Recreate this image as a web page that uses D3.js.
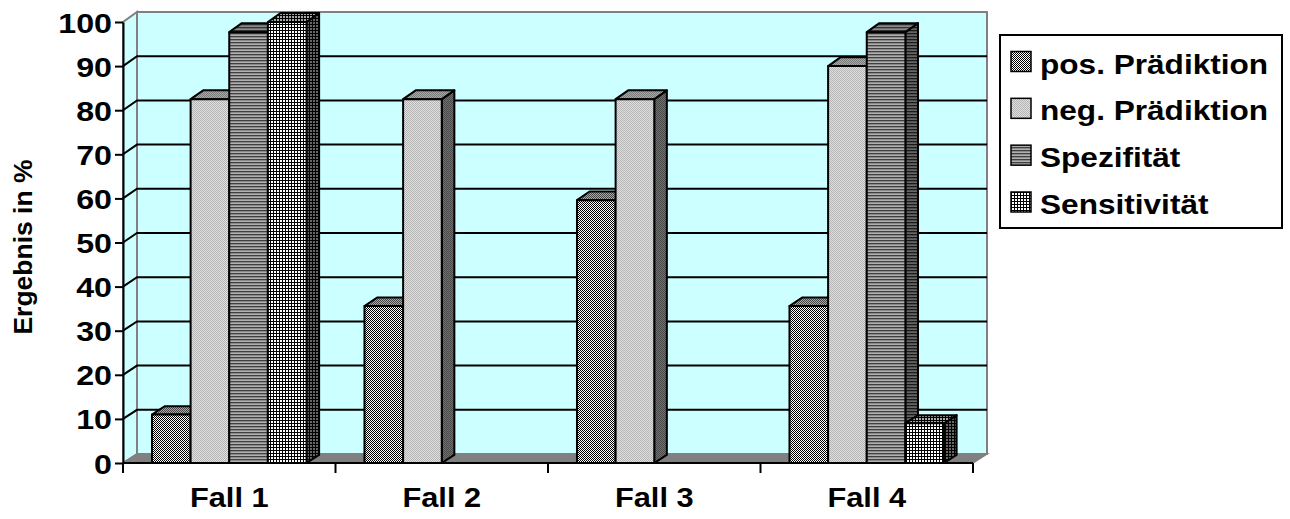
<!DOCTYPE html>
<html><head><meta charset="utf-8">
<script src="https://cdn.jsdelivr.net/npm/d3@7"></script>
<style>body{margin:0;background:#fff;overflow:hidden}</style>
</head><body><svg id="c" width="1290" height="519"></svg>
<script>
const categories = ["Fall 1", "Fall 2", "Fall 3", "Fall 4"];
const seriesNames = ["pos. Prädiktion", "neg. Prädiktion", "Spezifität", "Sensitivität"];
const posPraediktion = [11, 35.6, 59.6, 35.6];
const negPraediktion = [82.5, 82.5, 82.5, 90];
const spezifitaet = [97.7, null, null, 97.7];
const sensitivitaet = [100, null, null, 9];
const yTicks = [0, 10, 20, 30, 40, 50, 60, 70, 80, 90, 100];
const yTitle = "Ergebnis in %";

const seriesValues = [posPraediktion, negPraediktion, spezifitaet, sensitivitaet];
const svg = d3.select("#c");
const FONT = "Liberation Sans, Arial, sans-serif";
const X0 = 123, X1 = 973, DX = 14, BAR_D = 0.9;

const x = d3.scaleBand().domain(categories).range([X0, X1]);
const xs = d3.scaleBand().domain(seriesNames).range([0, x.bandwidth()]).paddingInner(0).paddingOuter(0.75);
const yF = d3.scaleLinear().domain([0, 100]).range([463, 22]);
const yB = d3.scaleLinear().domain([0, 100]).range([454, 12]);
function P(px, v, d) { return [px + DX * d, yF(v) * (1 - d) + yB(v) * d]; }
const poly = pts => pts.map(p => p.join(",")).join(" ");

// patterns
const defs = svg.append("defs");
function checker(id, a, b) {
  const p = defs.append("pattern").attr("id", id).attr("patternUnits", "userSpaceOnUse").attr("width", 2).attr("height", 2);
  p.append("rect").attr("width", 2).attr("height", 2).attr("fill", b);
  p.append("rect").attr("width", 1).attr("height", 1).attr("fill", a);
  p.append("rect").attr("x", 1).attr("y", 1).attr("width", 1).attr("height", 1).attr("fill", a);
}
function stripes(id, c0, c1, c2) {
  const p = defs.append("pattern").attr("id", id).attr("patternUnits", "userSpaceOnUse").attr("width", 3).attr("height", 3);
  [c0, c1, c2].forEach((c, i) => p.append("rect").attr("y", i).attr("width", 3).attr("height", 1).attr("fill", c));
}
function grid(id, bg, line) {
  const p = defs.append("pattern").attr("id", id).attr("patternUnits", "userSpaceOnUse").attr("width", 3).attr("height", 3);
  p.append("rect").attr("width", 3).attr("height", 3).attr("fill", bg);
  p.append("rect").attr("width", 3).attr("height", 1).attr("fill", line);
  p.append("rect").attr("width", 1).attr("height", 3).attr("fill", line);
}
checker("s0f", "#000", "#fff"); checker("s0t", "#444", "#aaa"); checker("s0s", "#000", "#777");
checker("s1f", "#b4b4b4", "#e0e0e0"); checker("s1t", "#7a7a7a", "#a8a8a8"); checker("s1s", "#4a4a4a", "#707070");
stripes("s2f", "#404040", "#8a8a8a", "#b0b0b0"); stripes("s2t", "#333", "#707070", "#8a8a8a"); stripes("s2s", "#1a1a1a", "#505050", "#666");
grid("s3f", "#fff", "#000"); grid("s3t", "#aaa", "#000"); grid("s3s", "#666", "#000");

// walls
svg.append("polygon").attr("points", poly([P(X0, 0, 0), P(X0, 100, 0), P(X0, 100, 1), P(X0, 0, 1)]))
  .attr("fill", "#ccffff").attr("stroke", "#808080").attr("stroke-width", 2);
svg.append("polygon").attr("points", poly([P(X0, 0, 1), P(X0, 100, 1), P(X1, 100, 1), P(X1, 0, 1)]))
  .attr("fill", "#ccffff").attr("stroke", "#808080").attr("stroke-width", 2);
svg.append("polygon").attr("points", poly([P(X0, 0, 0), P(X1, 0, 0), P(X1, 0, 1), P(X0, 0, 1)]))
  .attr("fill", "#808080").attr("stroke", "#808080").attr("stroke-width", 1.5);

// gridlines
svg.append("g").selectAll("polyline").data(yTicks.filter(v => v > 0 && v < 100)).join("polyline")
  .attr("points", v => poly([P(X0, v, 0), P(X0, v, 1), P(X1, v, 1)]))
  .attr("fill", "none").attr("stroke", "#000").attr("stroke-width", 2);

// bars
const bars = [];
categories.forEach((c, ci) => seriesNames.forEach((s, si) => {
  const v = seriesValues[si][ci];
  if (v != null) bars.push({ c, s, si, v });
}));
const bg = svg.append("g");
bars.forEach(b => {
  const xl = x(b.c) + xs(b.s), xr = xl + xs.bandwidth();
  const g = bg.append("g").attr("stroke", "#000").attr("stroke-width", 2).attr("stroke-linejoin", "round");
  g.append("polygon").attr("points", poly([P(xr, 0, 0), P(xr, b.v, 0), P(xr, b.v, BAR_D), P(xr, 0, BAR_D)])).attr("fill", `url(#s${b.si}s)`);
  g.append("polygon").attr("points", poly([P(xl, b.v, 0), P(xl, b.v, BAR_D), P(xr, b.v, BAR_D), P(xr, b.v, 0)])).attr("fill", `url(#s${b.si}t)`);
  g.append("polygon").attr("points", poly([P(xl, 0, 0), P(xl, b.v, 0), P(xr, b.v, 0), P(xr, 0, 0)])).attr("fill", `url(#s${b.si}f)`);
});

// y axis
const ya = svg.append("g").attr("transform", `translate(${X0},0)`)
  .call(d3.axisLeft(yF).tickValues(yTicks).tickSize(8).tickSizeOuter(0));
ya.select(".domain").attr("stroke", "#000").attr("stroke-width", 2);
ya.selectAll(".tick line").attr("stroke", "#000").attr("stroke-width", 2);
ya.selectAll(".tick text").attr("x", null).attr("dy", null)
  .attr("transform", "translate(-11,10) scale(1.15,1)")
  .attr("font-family", FONT).attr("font-weight", "bold").attr("font-size", 28).attr("fill", "#000");

// x axis
const xa = svg.append("g").attr("transform", `translate(0,${yF(0)})`);
xa.append("line").attr("x1", X0).attr("x2", X1).attr("stroke", "#000").attr("stroke-width", 2);
xa.selectAll("line.t").data(categories.map(c => x(c)).concat([X1])).join("line").attr("class", "t")
  .attr("x1", d => d).attr("x2", d => d).attr("y1", 0).attr("y2", 10).attr("stroke", "#000").attr("stroke-width", 2);
xa.selectAll("text").data(categories).join("text")
  .attr("transform", d => `translate(${x(d) + x.bandwidth() / 2},44) scale(1.1,1)`)
  .attr("text-anchor", "middle").attr("font-family", FONT).attr("font-weight", "bold").attr("font-size", 28).text(d => d);

// y title
svg.append("text").attr("transform", "translate(32,247) rotate(-90) scale(1.06,1)")
  .attr("text-anchor", "middle").attr("font-family", FONT).attr("font-weight", "bold").attr("font-size", 25).text(yTitle);

// legend
const lg = svg.append("g");
lg.append("rect").attr("x", 1000).attr("y", 35).attr("width", 282).attr("height", 193)
  .attr("fill", "#fff").attr("stroke", "#000").attr("stroke-width", 2);
const rowY = d3.scalePoint().domain(seriesNames).range([61.5, 202]);
const items = lg.selectAll("g.it").data(seriesNames).join("g").attr("class", "it");
items.append("rect").attr("x", 1011).attr("y", d => rowY(d) - 10).attr("width", 20).attr("height", 20)
  .attr("fill", (d, i) => `url(#s${i}f)`).attr("stroke", "#000").attr("stroke-width", 1.5);
items.append("text").attr("transform", d => `translate(1040,${rowY(d) + 12}) scale(1.17,1)`)
  .attr("font-family", FONT).attr("font-weight", "bold").attr("font-size", 27).text(d => d);
</script></body></html>
